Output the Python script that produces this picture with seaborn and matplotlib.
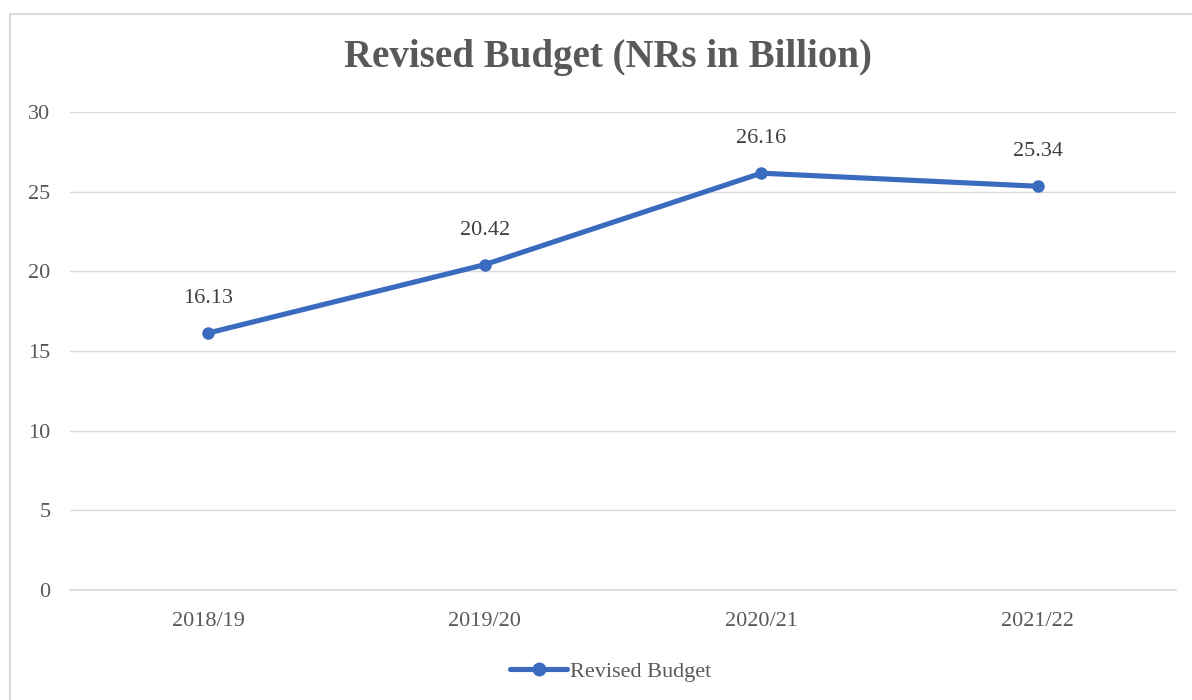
import matplotlib
matplotlib.use("Agg")
import matplotlib.pyplot as plt
import seaborn as sns
import pandas as pd
from matplotlib.lines import Line2D

years = ["2018/19", "2019/20", "2020/21", "2021/22"]
values = [16.13, 20.42, 26.16, 25.34]
labels = ["16.13", "20.42", "26.16", "25.34"]
series_name = "Revised Budget"
title = "Revised Budget (NRs in Billion)"
yticks = [0, 5, 10, 15, 20, 25, 30]

sns.set_theme(style="white")
plt.rcParams['font.family'] = ['Liberation Serif', 'DejaVu Serif']

df = pd.DataFrame({"year": years, "value": values})

fig = plt.figure(figsize=(11.92, 7.0), dpi=100)
ax = fig.add_axes([70/1192, 1-590/700, 1106/1192, 478/700])

color = "#3A6BBE"
x = list(range(len(years)))
df["x"] = x
sns.lineplot(data=df, x="x", y="value", ax=ax, color=color, linewidth=3.7,
             marker="o", markersize=9, markeredgewidth=0, label=series_name, legend=False)

for xi, v, lab in zip(x, values, labels):
    ax.annotate(lab, (xi, v), xytext=(0, 18), textcoords="offset points",
                ha="center", va="bottom", fontsize=16, color="#404040")

ax.set_xlim(-0.5, 3.5)
ax.set_ylim(0, 30)
ax.set_yticks(yticks)
ax.set_xticks(x)
ax.set_xticklabels(years)
ax.set_xlabel("")
ax.set_ylabel("")
ax.grid(axis="y", color="#D9D9D9", linewidth=1)
ax.set_axisbelow(True)
for s in ["top", "right", "left"]:
    ax.spines[s].set_visible(False)
ax.spines["bottom"].set_color("#D9D9D9")
ax.tick_params(axis="both", length=0, labelsize=16, labelcolor="#595959")
ax.tick_params(axis="y", pad=14)
ax.tick_params(axis="x", pad=16)

fig.text(0.51, 1-58/700, title, ha="center", va="center", fontsize=28,
         fontweight="bold", color="#595959")

handle = Line2D([0], [0], color=color, linewidth=3.7, marker="o", markersize=9)
fig.legend(handles=[handle], labels=[series_name], loc="center",
           bbox_to_anchor=(0.512, 1-672/700), frameon=False, fontsize=16,
           labelcolor="#595959", handlelength=2.6, handletextpad=0.1)

# chart border (left and top)
fig.add_artist(Line2D([10/1192, 10/1192], [0, 1-14/700], transform=fig.transFigure,
                      color="#D9D9D9", linewidth=1.5))
fig.add_artist(Line2D([10/1192, 1], [1-14/700, 1-14/700], transform=fig.transFigure,
                      color="#D9D9D9", linewidth=1.5))

fig.savefig("out.png", dpi=100, facecolor="white")
